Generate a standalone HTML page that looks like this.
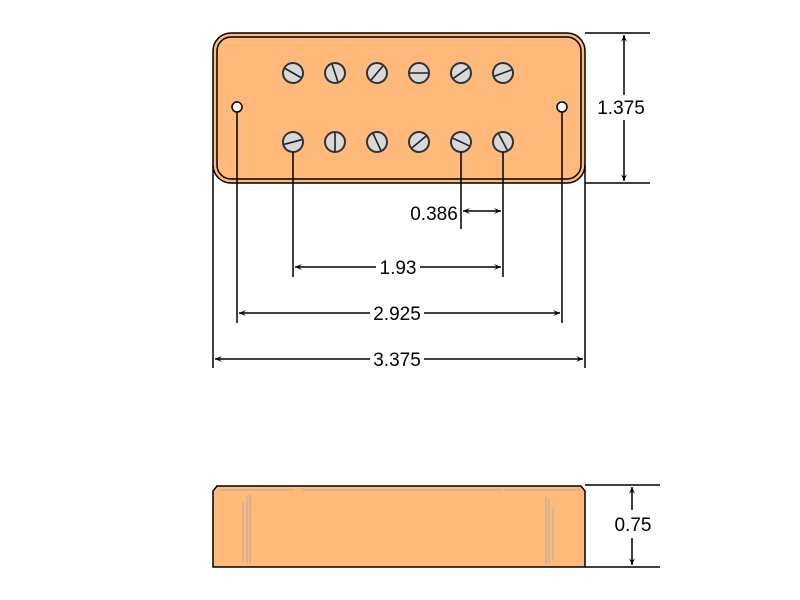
<!DOCTYPE html>
<html><head><style>
html,body{margin:0;padding:0;background:#fff;width:800px;height:600px;overflow:hidden}
svg text{font-family:"Liberation Sans",sans-serif;font-size:19px;fill:#000}
</style></head><body>
<svg width="800" height="600" viewBox="0 0 800 600" xmlns="http://www.w3.org/2000/svg">
<defs>
<marker id="a" markerWidth="8" markerHeight="6" refX="7" refY="3" orient="auto" markerUnits="userSpaceOnUse">
<path d="M0,0 L7,3 L0,6 L3,3 Z" fill="#000"/></marker>
<g id="s"><circle r="10" fill="#d8d8d8" stroke="#333" stroke-width="2"/><line x1="-9" y1="0" x2="9" y2="0" stroke="#222" stroke-width="1.6"/></g>
</defs>
<rect x="213" y="33" width="372" height="150" rx="18" fill="#ffb97a" stroke="#000" stroke-width="1.5"/>
<rect x="217" y="37" width="364" height="142" rx="14" fill="none" stroke="#000" stroke-width="1.5"/>
<use href="#s" transform="translate(293,73) rotate(30)"/>
<use href="#s" transform="translate(335,73) rotate(72)"/>
<use href="#s" transform="translate(377,73) rotate(-50)"/>
<use href="#s" transform="translate(419,73) rotate(0)"/>
<use href="#s" transform="translate(461,73) rotate(-35)"/>
<use href="#s" transform="translate(503,73) rotate(-20)"/>
<use href="#s" transform="translate(293,142) rotate(-15)"/>
<use href="#s" transform="translate(335,142) rotate(90)"/>
<use href="#s" transform="translate(377,142) rotate(65)"/>
<use href="#s" transform="translate(419,142) rotate(-40)"/>
<use href="#s" transform="translate(461,142) rotate(25)"/>
<use href="#s" transform="translate(503,142) rotate(62)"/>
<circle cx="237" cy="107" r="5" fill="#fff" stroke="#000" stroke-width="1.5"/>
<circle cx="562" cy="107" r="5" fill="#fff" stroke="#000" stroke-width="1.5"/>
<g stroke="#000" stroke-width="1.5" fill="none">
<line x1="585" y1="33" x2="650" y2="33"/><line x1="585" y1="183" x2="650" y2="183"/>
<line x1="624" y1="95" x2="624" y2="35" marker-end="url(#a)"/>
<line x1="624" y1="120" x2="624" y2="181" marker-end="url(#a)"/>
<line x1="213" y1="165" x2="213" y2="368"/>
<line x1="585" y1="165" x2="585" y2="368"/>
<line x1="237" y1="112" x2="237" y2="323"/>
<line x1="562" y1="112" x2="562" y2="323"/>
<line x1="293" y1="152" x2="293" y2="277"/>
<line x1="503" y1="152" x2="503" y2="277"/>
<line x1="461" y1="152" x2="461" y2="229"/>
<line x1="482" y1="211" x2="463" y2="211" marker-end="url(#a)"/>
<line x1="482" y1="211" x2="501" y2="211" marker-end="url(#a)"/>
<line x1="376" y1="267" x2="295" y2="267" marker-end="url(#a)"/>
<line x1="420" y1="267" x2="501" y2="267" marker-end="url(#a)"/>
<line x1="370" y1="313" x2="239" y2="313" marker-end="url(#a)"/>
<line x1="424" y1="313" x2="560" y2="313" marker-end="url(#a)"/>
<line x1="370" y1="359" x2="215" y2="359" marker-end="url(#a)"/>
<line x1="424" y1="359" x2="583" y2="359" marker-end="url(#a)"/>
</g>
<text x="621" y="114" text-anchor="middle">1.375</text>
<text x="434" y="220" text-anchor="middle">0.386</text>
<text x="398" y="274" text-anchor="middle">1.93</text>
<text x="397" y="320" text-anchor="middle">2.925</text>
<text x="397" y="366" text-anchor="middle">3.375</text>
<path d="M213,567 L213,491 L217,486 L581,486 L585,491 L585,567 Z" fill="#ffb97a" stroke="#000" stroke-width="1.5"/>
<g stroke="#aaa" stroke-width="1">
<line x1="219" y1="490" x2="294" y2="490"/><line x1="302" y1="490" x2="502" y2="490"/><line x1="504" y1="490" x2="580" y2="490"/>
<line x1="243" y1="502" x2="243" y2="562"/><line x1="247" y1="496" x2="247" y2="564"/><line x1="250" y1="494" x2="250" y2="564"/>
<line x1="546" y1="496" x2="546" y2="564"/><line x1="549" y1="498" x2="549" y2="564"/><line x1="553" y1="508" x2="553" y2="560"/>
</g>
<g stroke="#000" stroke-width="1.5" fill="none">
<line x1="585" y1="485" x2="660" y2="485"/><line x1="585" y1="567" x2="660" y2="567"/>
<line x1="632" y1="510" x2="632" y2="487" marker-end="url(#a)"/>
<line x1="632" y1="538" x2="632" y2="565" marker-end="url(#a)"/>
</g>
<text x="633" y="531" text-anchor="middle">0.75</text>
</svg>
</body></html>
